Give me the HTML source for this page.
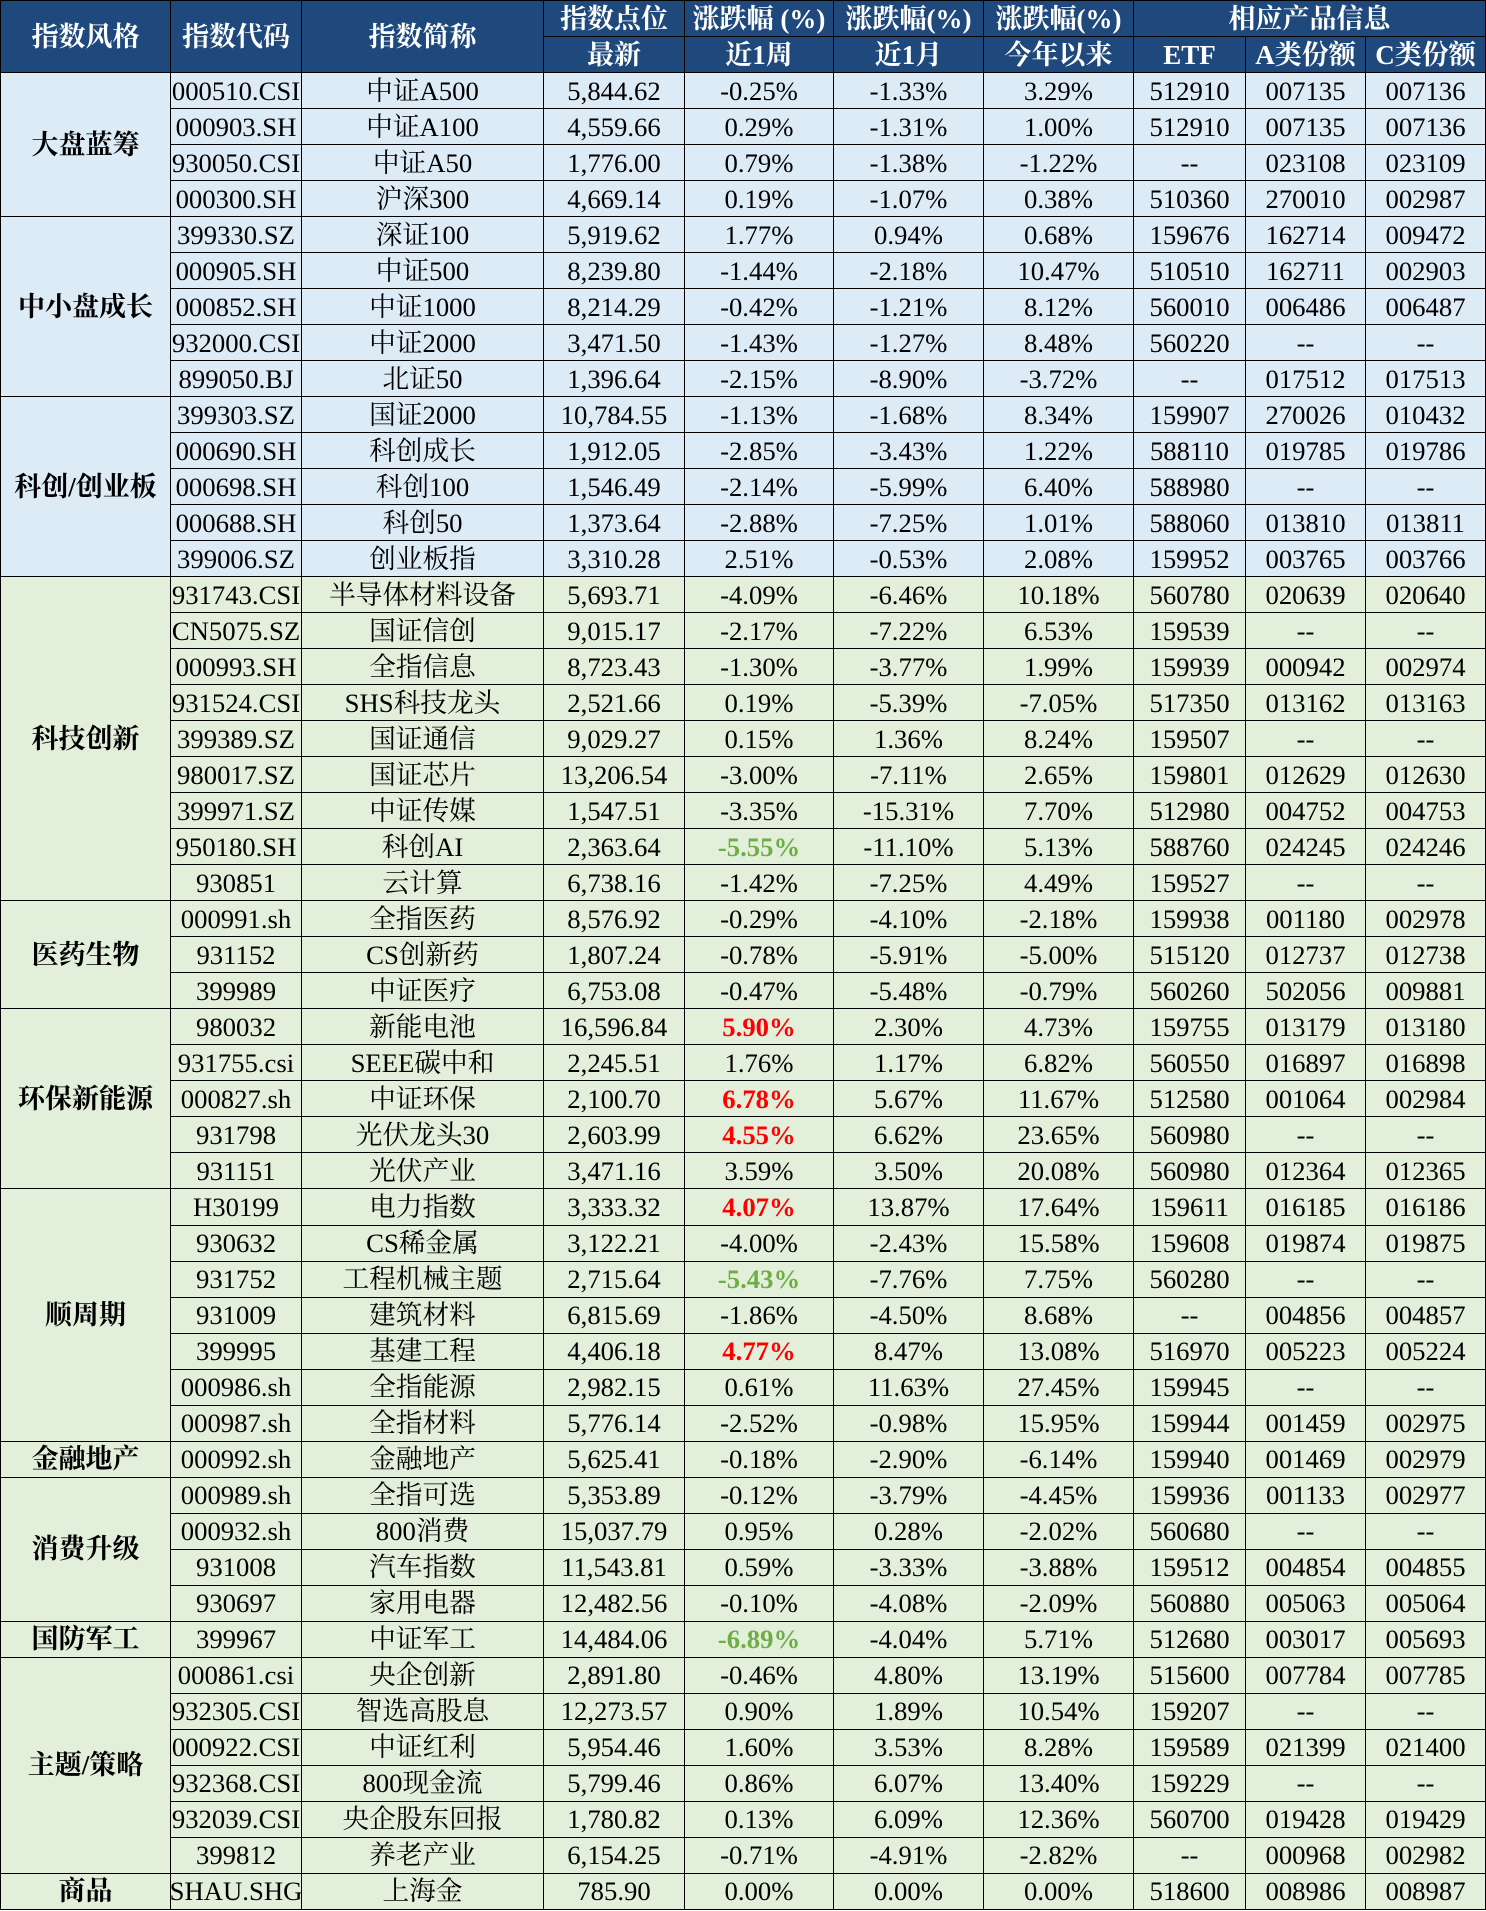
<!DOCTYPE html>
<html><head><meta charset="utf-8">
<style>
html,body{margin:0;padding:0;background:#fff;}
body{width:1486px;height:1911px;overflow:hidden;}
.t{display:grid;width:1484px;padding:1px;background:#000;gap:1px;
grid-template-columns:169px 130px 241px 140px 148px 149px 149px 111px 119px 119px;
grid-template-rows:35px 35px repeat(51,35.02px);
font-family:"Liberation Serif","Noto Serif CJK SC",serif;font-size:26.7px;color:#000;line-height:30px;}
.t div{display:flex;align-items:center;justify-content:center;overflow:hidden;white-space:nowrap;}
.t .c{display:contents;}
.h{background:#1F497D;color:#fff;font-weight:bold;font-size:27px;}
.r2{grid-row:span 2;}
.c3{grid-column:span 3;}
.b > div,.gb{background:#DDEBF7;}
.g > div,.gg{background:#E2EFDA;}
.gl{font-weight:bold;font-size:27px;}
.red{color:#FF0000;font-weight:bold;}
.grn{color:#70AD47;font-weight:bold;}
</style></head><body>
<div class="t">
<div class="h r2">指数风格</div><div class="h r2">指数代码</div><div class="h r2">指数简称</div>
<div class="h">指数点位</div><div class="h">涨跌幅 (%)</div><div class="h">涨跌幅(%)</div><div class="h">涨跌幅(%)</div><div class="h c3">相应产品信息</div>
<div class="h">最新</div><div class="h">近1周</div><div class="h">近1月</div><div class="h">今年以来</div><div class="h">ETF</div><div class="h">A类份额</div><div class="h">C类份额</div>

<div class="gl gb" style="grid-row:span 4">大盘蓝筹</div>
<div class="c b"><div>000510.CSI</div><div>中证A500</div><div>5,844.62</div><div>-0.25%</div><div>-1.33%</div><div>3.29%</div><div>512910</div><div>007135</div><div>007136</div></div>
<div class="c b"><div>000903.SH</div><div>中证A100</div><div>4,559.66</div><div>0.29%</div><div>-1.31%</div><div>1.00%</div><div>512910</div><div>007135</div><div>007136</div></div>
<div class="c b"><div>930050.CSI</div><div>中证A50</div><div>1,776.00</div><div>0.79%</div><div>-1.38%</div><div>-1.22%</div><div>--</div><div>023108</div><div>023109</div></div>
<div class="c b"><div>000300.SH</div><div>沪深300</div><div>4,669.14</div><div>0.19%</div><div>-1.07%</div><div>0.38%</div><div>510360</div><div>270010</div><div>002987</div></div>

<div class="gl gb" style="grid-row:span 5">中小盘成长</div>
<div class="c b"><div>399330.SZ</div><div>深证100</div><div>5,919.62</div><div>1.77%</div><div>0.94%</div><div>0.68%</div><div>159676</div><div>162714</div><div>009472</div></div>
<div class="c b"><div>000905.SH</div><div>中证500</div><div>8,239.80</div><div>-1.44%</div><div>-2.18%</div><div>10.47%</div><div>510510</div><div>162711</div><div>002903</div></div>
<div class="c b"><div>000852.SH</div><div>中证1000</div><div>8,214.29</div><div>-0.42%</div><div>-1.21%</div><div>8.12%</div><div>560010</div><div>006486</div><div>006487</div></div>
<div class="c b"><div>932000.CSI</div><div>中证2000</div><div>3,471.50</div><div>-1.43%</div><div>-1.27%</div><div>8.48%</div><div>560220</div><div>--</div><div>--</div></div>
<div class="c b"><div>899050.BJ</div><div>北证50</div><div>1,396.64</div><div>-2.15%</div><div>-8.90%</div><div>-3.72%</div><div>--</div><div>017512</div><div>017513</div></div>

<div class="gl gb" style="grid-row:span 5">科创/创业板</div>
<div class="c b"><div>399303.SZ</div><div>国证2000</div><div>10,784.55</div><div>-1.13%</div><div>-1.68%</div><div>8.34%</div><div>159907</div><div>270026</div><div>010432</div></div>
<div class="c b"><div>000690.SH</div><div>科创成长</div><div>1,912.05</div><div>-2.85%</div><div>-3.43%</div><div>1.22%</div><div>588110</div><div>019785</div><div>019786</div></div>
<div class="c b"><div>000698.SH</div><div>科创100</div><div>1,546.49</div><div>-2.14%</div><div>-5.99%</div><div>6.40%</div><div>588980</div><div>--</div><div>--</div></div>
<div class="c b"><div>000688.SH</div><div>科创50</div><div>1,373.64</div><div>-2.88%</div><div>-7.25%</div><div>1.01%</div><div>588060</div><div>013810</div><div>013811</div></div>
<div class="c b"><div>399006.SZ</div><div>创业板指</div><div>3,310.28</div><div>2.51%</div><div>-0.53%</div><div>2.08%</div><div>159952</div><div>003765</div><div>003766</div></div>

<div class="gl gg" style="grid-row:span 9">科技创新</div>
<div class="c g"><div>931743.CSI</div><div>半导体材料设备</div><div>5,693.71</div><div>-4.09%</div><div>-6.46%</div><div>10.18%</div><div>560780</div><div>020639</div><div>020640</div></div>
<div class="c g"><div>CN5075.SZ</div><div>国证信创</div><div>9,015.17</div><div>-2.17%</div><div>-7.22%</div><div>6.53%</div><div>159539</div><div>--</div><div>--</div></div>
<div class="c g"><div>000993.SH</div><div>全指信息</div><div>8,723.43</div><div>-1.30%</div><div>-3.77%</div><div>1.99%</div><div>159939</div><div>000942</div><div>002974</div></div>
<div class="c g"><div>931524.CSI</div><div>SHS科技龙头</div><div>2,521.66</div><div>0.19%</div><div>-5.39%</div><div>-7.05%</div><div>517350</div><div>013162</div><div>013163</div></div>
<div class="c g"><div>399389.SZ</div><div>国证通信</div><div>9,029.27</div><div>0.15%</div><div>1.36%</div><div>8.24%</div><div>159507</div><div>--</div><div>--</div></div>
<div class="c g"><div>980017.SZ</div><div>国证芯片</div><div>13,206.54</div><div>-3.00%</div><div>-7.11%</div><div>2.65%</div><div>159801</div><div>012629</div><div>012630</div></div>
<div class="c g"><div>399971.SZ</div><div>中证传媒</div><div>1,547.51</div><div>-3.35%</div><div>-15.31%</div><div>7.70%</div><div>512980</div><div>004752</div><div>004753</div></div>
<div class="c g"><div>950180.SH</div><div>科创AI</div><div>2,363.64</div><div class="grn">-5.55%</div><div>-11.10%</div><div>5.13%</div><div>588760</div><div>024245</div><div>024246</div></div>
<div class="c g"><div>930851</div><div>云计算</div><div>6,738.16</div><div>-1.42%</div><div>-7.25%</div><div>4.49%</div><div>159527</div><div>--</div><div>--</div></div>

<div class="gl gg" style="grid-row:span 3">医药生物</div>
<div class="c g"><div>000991.sh</div><div>全指医药</div><div>8,576.92</div><div>-0.29%</div><div>-4.10%</div><div>-2.18%</div><div>159938</div><div>001180</div><div>002978</div></div>
<div class="c g"><div>931152</div><div>CS创新药</div><div>1,807.24</div><div>-0.78%</div><div>-5.91%</div><div>-5.00%</div><div>515120</div><div>012737</div><div>012738</div></div>
<div class="c g"><div>399989</div><div>中证医疗</div><div>6,753.08</div><div>-0.47%</div><div>-5.48%</div><div>-0.79%</div><div>560260</div><div>502056</div><div>009881</div></div>

<div class="gl gg" style="grid-row:span 5">环保新能源</div>
<div class="c g"><div>980032</div><div>新能电池</div><div>16,596.84</div><div class="red">5.90%</div><div>2.30%</div><div>4.73%</div><div>159755</div><div>013179</div><div>013180</div></div>
<div class="c g"><div>931755.csi</div><div>SEEE碳中和</div><div>2,245.51</div><div>1.76%</div><div>1.17%</div><div>6.82%</div><div>560550</div><div>016897</div><div>016898</div></div>
<div class="c g"><div>000827.sh</div><div>中证环保</div><div>2,100.70</div><div class="red">6.78%</div><div>5.67%</div><div>11.67%</div><div>512580</div><div>001064</div><div>002984</div></div>
<div class="c g"><div>931798</div><div>光伏龙头30</div><div>2,603.99</div><div class="red">4.55%</div><div>6.62%</div><div>23.65%</div><div>560980</div><div>--</div><div>--</div></div>
<div class="c g"><div>931151</div><div>光伏产业</div><div>3,471.16</div><div>3.59%</div><div>3.50%</div><div>20.08%</div><div>560980</div><div>012364</div><div>012365</div></div>

<div class="gl gg" style="grid-row:span 7">顺周期</div>
<div class="c g"><div>H30199</div><div>电力指数</div><div>3,333.32</div><div class="red">4.07%</div><div>13.87%</div><div>17.64%</div><div>159611</div><div>016185</div><div>016186</div></div>
<div class="c g"><div>930632</div><div>CS稀金属</div><div>3,122.21</div><div>-4.00%</div><div>-2.43%</div><div>15.58%</div><div>159608</div><div>019874</div><div>019875</div></div>
<div class="c g"><div>931752</div><div>工程机械主题</div><div>2,715.64</div><div class="grn">-5.43%</div><div>-7.76%</div><div>7.75%</div><div>560280</div><div>--</div><div>--</div></div>
<div class="c g"><div>931009</div><div>建筑材料</div><div>6,815.69</div><div>-1.86%</div><div>-4.50%</div><div>8.68%</div><div>--</div><div>004856</div><div>004857</div></div>
<div class="c g"><div>399995</div><div>基建工程</div><div>4,406.18</div><div class="red">4.77%</div><div>8.47%</div><div>13.08%</div><div>516970</div><div>005223</div><div>005224</div></div>
<div class="c g"><div>000986.sh</div><div>全指能源</div><div>2,982.15</div><div>0.61%</div><div>11.63%</div><div>27.45%</div><div>159945</div><div>--</div><div>--</div></div>
<div class="c g"><div>000987.sh</div><div>全指材料</div><div>5,776.14</div><div>-2.52%</div><div>-0.98%</div><div>15.95%</div><div>159944</div><div>001459</div><div>002975</div></div>

<div class="gl gg">金融地产</div>
<div class="c g"><div>000992.sh</div><div>金融地产</div><div>5,625.41</div><div>-0.18%</div><div>-2.90%</div><div>-6.14%</div><div>159940</div><div>001469</div><div>002979</div></div>

<div class="gl gg" style="grid-row:span 4">消费升级</div>
<div class="c g"><div>000989.sh</div><div>全指可选</div><div>5,353.89</div><div>-0.12%</div><div>-3.79%</div><div>-4.45%</div><div>159936</div><div>001133</div><div>002977</div></div>
<div class="c g"><div>000932.sh</div><div>800消费</div><div>15,037.79</div><div>0.95%</div><div>0.28%</div><div>-2.02%</div><div>560680</div><div>--</div><div>--</div></div>
<div class="c g"><div>931008</div><div>汽车指数</div><div>11,543.81</div><div>0.59%</div><div>-3.33%</div><div>-3.88%</div><div>159512</div><div>004854</div><div>004855</div></div>
<div class="c g"><div>930697</div><div>家用电器</div><div>12,482.56</div><div>-0.10%</div><div>-4.08%</div><div>-2.09%</div><div>560880</div><div>005063</div><div>005064</div></div>

<div class="gl gg">国防军工</div>
<div class="c g"><div>399967</div><div>中证军工</div><div>14,484.06</div><div class="grn">-6.89%</div><div>-4.04%</div><div>5.71%</div><div>512680</div><div>003017</div><div>005693</div></div>

<div class="gl gg" style="grid-row:span 6">主题/策略</div>
<div class="c g"><div>000861.csi</div><div>央企创新</div><div>2,891.80</div><div>-0.46%</div><div>4.80%</div><div>13.19%</div><div>515600</div><div>007784</div><div>007785</div></div>
<div class="c g"><div>932305.CSI</div><div>智选高股息</div><div>12,273.57</div><div>0.90%</div><div>1.89%</div><div>10.54%</div><div>159207</div><div>--</div><div>--</div></div>
<div class="c g"><div>000922.CSI</div><div>中证红利</div><div>5,954.46</div><div>1.60%</div><div>3.53%</div><div>8.28%</div><div>159589</div><div>021399</div><div>021400</div></div>
<div class="c g"><div>932368.CSI</div><div>800现金流</div><div>5,799.46</div><div>0.86%</div><div>6.07%</div><div>13.40%</div><div>159229</div><div>--</div><div>--</div></div>
<div class="c g"><div>932039.CSI</div><div>央企股东回报</div><div>1,780.82</div><div>0.13%</div><div>6.09%</div><div>12.36%</div><div>560700</div><div>019428</div><div>019429</div></div>
<div class="c g"><div>399812</div><div>养老产业</div><div>6,154.25</div><div>-0.71%</div><div>-4.91%</div><div>-2.82%</div><div>--</div><div>000968</div><div>002982</div></div>

<div class="gl gg">商品</div>
<div class="c g"><div>SHAU.SHG</div><div>上海金</div><div>785.90</div><div>0.00%</div><div>0.00%</div><div>0.00%</div><div>518600</div><div>008986</div><div>008987</div></div>
</div>
</body></html>
